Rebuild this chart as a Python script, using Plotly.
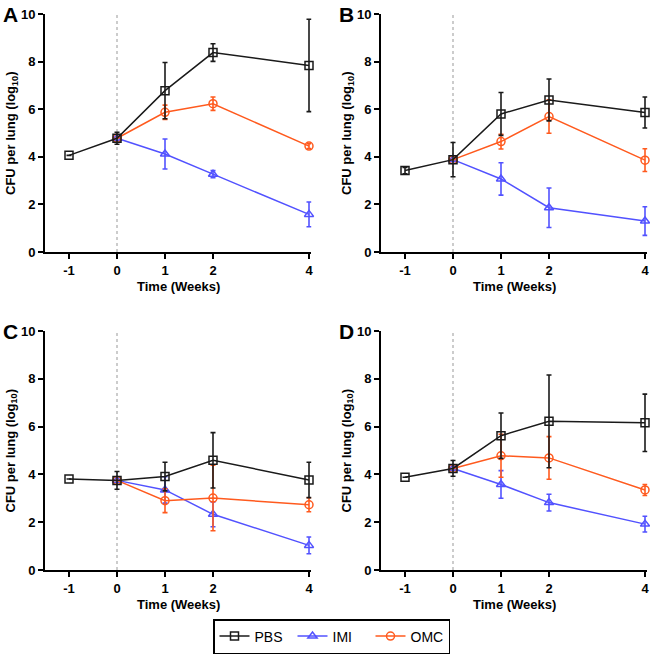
import plotly.graph_objects as go

W, H = 650, 656

weeks = [-1, 0, 1, 2, 4]
treat_weeks = [0, 1, 2, 4]
tick_text = ["-1", "0", "1", "2", "4"]

# panel A
pbs_a = [4.06, 4.78, 6.78, 8.38, 7.84]
pbs_a_err = [0.0, 0.25, 1.18, 0.37, 1.94]
imi_a = [4.78, 4.12, 3.27, 1.58]
imi_a_err = [0.0, 0.63, 0.15, 0.52]
omc_a = [4.78, 5.87, 6.23, 4.45]
omc_a_err = [0.0, 0.3, 0.28, 0.1]

# panel B
pbs_b = [3.42, 3.88, 5.80, 6.39, 5.86]
pbs_b_err = [0.13, 0.72, 0.9, 0.88, 0.65]
imi_b = [3.88, 3.07, 1.86, 1.3]
imi_b_err = [0.0, 0.68, 0.83, 0.6]
omc_b = [3.88, 4.64, 5.69, 3.86]
omc_b_err = [0.0, 0.31, 0.7, 0.48]

# panel C
pbs_c = [3.81, 3.75, 3.91, 4.59, 3.77]
pbs_c_err = [0.0, 0.37, 0.6, 1.16, 0.74]
imi_c = [3.75, 3.35, 2.33, 1.03]
imi_c_err = [0.0, 0.55, 0.52, 0.35]
omc_c = [3.75, 2.9, 3.01, 2.73]
omc_c_err = [0.0, 0.5, 1.37, 0.29]

# panel D
pbs_d = [3.88, 4.25, 5.62, 6.22, 6.16]
pbs_d_err = [0.0, 0.33, 0.95, 1.94, 1.2]
imi_d = [4.25, 3.58, 2.82, 1.92]
imi_d_err = [0.0, 0.58, 0.35, 0.33]
omc_d = [4.25, 4.78, 4.69, 3.35]
omc_d_err = [0.0, 0.9, 0.89, 0.23]

panels = [
    ("A", pbs_a, pbs_a_err, imi_a, imi_a_err, omc_a, omc_a_err),
    ("B", pbs_b, pbs_b_err, imi_b, imi_b_err, omc_b, omc_b_err),
    ("C", pbs_c, pbs_c_err, imi_c, imi_c_err, omc_c, omc_c_err),
    ("D", pbs_d, pbs_d_err, imi_d, imi_d_err, omc_d, omc_d_err),
]

BLACK = "#1a1a1a"
BLUE = "#5252ff"
ORANGE = "#ff5a1e"
FONT = "Liberation Sans"

# pixel boxes of each plot area: left, right, top, bottom
boxes = [
    (45, 311.4, 14, 252),
    (381, 647.4, 14, 252),
    (45, 311.4, 331, 570),
    (381, 647.4, 331, 570),
]


def fx(px):
    return px / W


def fy(py):
    return 1 - py / H


fig = go.Figure()
annotations = []
shapes = []

for i, (label, pbs, pbs_err, imi, imi_err, omc, omc_err) in enumerate(panels):
    n = "" if i == 0 else str(i + 1)
    xa, ya = "x" + n, "y" + n
    first = i == 0
    for name, xs, ys, err, col, sym, rank in [
        ("IMI", treat_weeks, imi, imi_err, BLUE, "triangle-up-open", 2),
        ("OMC", treat_weeks, omc, omc_err, ORANGE, "circle-open", 3),
        ("PBS", weeks, pbs, pbs_err, BLACK, "square-open", 1),
    ]:
        fig.add_trace(
            go.Scatter(
                x=xs,
                y=ys,
                name=name,
                mode="lines+markers",
                line=dict(color=col, width=1.5),
                marker=dict(symbol=sym, size=8, color=col, line=dict(width=1.5, color=col)),
                error_y=dict(type="data", array=err, color=col, thickness=1.6, width=2.5),
                xaxis=xa,
                yaxis=ya,
                showlegend=first,
                legendrank=rank,
                cliponaxis=False,
            )
        )

    l, r, t, b = boxes[i]
    axis_common = dict(
        showline=True,
        linecolor="black",
        linewidth=2,
        ticks="outside",
        ticklen=5,
        tickwidth=2,
        tickcolor="black",
        showgrid=False,
        zeroline=False,
        automargin=False,
        tickfont=dict(family=FONT, size=13, color="black", weight="bold"),
    )
    fig.layout["xaxis" + n] = dict(
        domain=[fx(l), fx(r)],
        anchor=ya,
        range=[-1.5, 4.05],
        tickvals=weeks,
        ticktext=tick_text,
        **axis_common,
    )
    fig.layout["yaxis" + n] = dict(
        domain=[fy(b), fy(t)],
        anchor=xa,
        range=[0, 10],
        tickvals=[0, 2, 4, 6, 8, 10],
        **axis_common,
    )

    shapes.append(
        dict(
            type="line", xref=xa, yref=ya, x0=0, x1=0, y0=0, y1=10,
            line=dict(color="#999999", width=1, dash="dot"), layer="below",
        )
    )
    annotations.append(
        dict(
            text="<b>CFU per lung (log<sub>10</sub>)</b>",
            x=fx(l - 34), y=fy((t + b) / 2), xref="paper", yref="paper",
            xanchor="center", yanchor="middle",
            textangle=-90, showarrow=False,
            font=dict(family=FONT, size=13, color="black"),
        )
    )
    annotations.append(
        dict(
            text="<b>Time (Weeks)</b>",
            x=fx((l + r) / 2), y=fy(b + 34), xref="paper", yref="paper",
            xanchor="center", yanchor="middle",
            showarrow=False, font=dict(family=FONT, size=13, color="black"),
        )
    )
    annotations.append(
        dict(
            text="<b>" + label + "</b>",
            x=fx(l - 44), y=fy(t - 13), xref="paper", yref="paper",
            xanchor="left", yanchor="top", showarrow=False,
            font=dict(family=FONT, size=21, color="black"),
        )
    )

fig.update_layout(
    template="none",
    width=W,
    height=H,
    margin=dict(l=0, r=0, t=0, b=0, autoexpand=False),
    plot_bgcolor="white",
    paper_bgcolor="white",
    font=dict(family=FONT, size=13, color="black"),
    shapes=shapes,
    annotations=annotations,
    legend=dict(
        orientation="h",
        x=fx(213), y=fy(619), xanchor="left", yanchor="top",
        bordercolor="black", borderwidth=1.5,
        font=dict(family=FONT, size=14, color="black"),
        entrywidth=33,
        traceorder="normal",
    ),
)

# the page body has a default 8px margin; drop it so the figure sits at 0,0
fig.write_html(
    "out.html",
    config={"displayModeBar": False},
    post_script="document.body.style.margin='0';",
)
